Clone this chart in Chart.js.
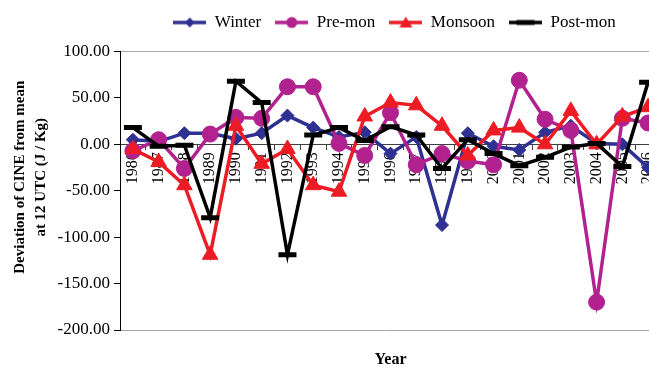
<!DOCTYPE html>
<html>
<head>
<meta charset="utf-8">
<title>Deviation of CINE from mean at 12 UTC</title>
<script src="https://cdn.jsdelivr.net/npm/chart.js@4.4.1/dist/chart.umd.min.js"></script>
<style>
  html, body { margin: 0; padding: 0; overflow: hidden; background: #ffffff; }
  #wrap { width: 649px; height: 369px; }
  #cine { display: block; }
</style>
</head>
<body>
<div id="wrap"><canvas id="cine" width="649" height="369"></canvas></div>
<script>
// Years on the category axis
const years = ['1986', '1987', '1988', '1989', '1990', '1991', '1992', '1993', '1994', '1995', '1996',
               '1997', '1998', '1999', '2000', '2001', '2002', '2003', '2004', '2005', '2006'];

// Seasonal deviation of CINE from its mean (J / Kg)
const winter  = [5, 3, 12, 12, 6, 12, 31, 18, 8, 13, -10, 8, -87, 12, -2, -6, 13, 20, 1, 0, -25];
const preMon  = [-7, 5, -26, 11, 29, 28, 62, 62, 1, -12, 34, -22, -10, -18, -22, 69, 27, 15, -170, 28, 23];
const monsoon = [-5, -19, -44, -119, 20, -21, -5, -44, -51, 30, 45, 42, 20, -12, 15, 18, 0, 36, 0, 30, 40];
const postMon = [18, -2, -1, -79, 68, 45, -119, 10, 18, 4, 19, 10, -26, 5, -10, -23, -14, -3, 1, -24, 67];

// Value axis range
const yMin = -200;
const yMax = 100;
const yStep = 50;

const seriesNames = ['Winter', 'Pre-mon', 'Monsoon', 'Post-mon'];
const yTitleLines = ['Deviation of CINE from mean', 'at 12 UTC (J / Kg)'];
const xTitle = 'Year';

const SERIF = "'Liberation Serif', 'Times New Roman', Times, serif";
const COLORS = ['#2E3192', '#B2228F', '#ED1C24', '#000000'];

// Small line-plus-marker swatches for the legend
function legendSymbol(color, kind) {
  const c = document.createElement('canvas');
  c.width = 33; c.height = 16;
  const g = c.getContext('2d');
  const x = 16.5, y = 8;
  g.strokeStyle = color; g.fillStyle = color;
  g.lineWidth = 3.5;
  g.beginPath(); g.moveTo(0, y); g.lineTo(33, y); g.stroke();
  g.beginPath();
  if (kind === 'diamond') {
    g.moveTo(x - 5, y); g.lineTo(x, y - 5); g.lineTo(x + 5, y); g.lineTo(x, y + 5); g.closePath(); g.fill();
  } else if (kind === 'circle') {
    g.arc(x, y, 5.5, 0, Math.PI * 2); g.fill();
  } else if (kind === 'triangle') {
    g.moveTo(x, y - 6); g.lineTo(x + 6.5, y + 5); g.lineTo(x - 6.5, y + 5); g.closePath(); g.fill();
  } else {
    g.lineWidth = 5; g.moveTo(x - 9, y); g.lineTo(x + 9, y); g.stroke();
  }
  return c;
}
const legendSymbols = [
  legendSymbol(COLORS[0], 'diamond'),
  legendSymbol(COLORS[1], 'circle'),
  legendSymbol(COLORS[2], 'triangle'),
  legendSymbol(COLORS[3], 'dash')
];

// The plot area runs past the right edge of the canvas (to PLOT_RIGHT),
// so the last year is cut off; the legend is centred over the full plot.
const PLOT_RIGHT = 661;
const extendPlot = {
  id: 'extendPlot',
  afterLayout(chart) {
    const area = chart.chartArea;
    const extra = PLOT_RIGHT - area.right;
    area.right += extra;
    area.width += extra;
    const x = chart.scales.x;
    x.right += extra;
    x.width += extra;
    x.configure();
    if (chart.legend) {
      chart.legend.right = area.right + 8;
    }
  }
};

// Axis titles placed beside the plot
const axisTitles = {
  id: 'axisTitles',
  afterDraw(chart) {
    const { ctx, chartArea } = chart;
    ctx.save();
    ctx.fillStyle = '#000';
    ctx.textAlign = 'center';
    ctx.textBaseline = 'middle';
    ctx.font = 'bold 15px ' + SERIF;
    const midY = (chartArea.top + chartArea.bottom) / 2 - 13.5;
    ctx.translate(0, midY);
    ctx.rotate(-Math.PI / 2);
    yTitleLines.forEach((t, i) => ctx.fillText(t, 0, 20 + i * 21));
    ctx.restore();
    ctx.save();
    ctx.fillStyle = '#000';
    ctx.textAlign = 'center';
    ctx.textBaseline = 'middle';
    ctx.font = 'bold 16px ' + SERIF;
    ctx.fillText(xTitle, (chartArea.left + chartArea.right) / 2, 360);
    ctx.restore();
  }
};

function series(i, data, style, radius, extra) {
  return Object.assign({
    label: seriesNames[i],
    data: data,
    borderColor: COLORS[i],
    backgroundColor: COLORS[i],
    borderWidth: 3.5,
    pointStyle: style,
    pointRadius: radius,
    pointHoverRadius: radius,
    pointBackgroundColor: COLORS[i],
    pointBorderColor: COLORS[i],
    pointBorderWidth: 1,
    tension: 0,
    order: 4 - i
  }, extra || {});
}

new Chart(document.getElementById('cine'), {
  type: 'line',
  data: {
    labels: years,
    datasets: [
      series(0, winter, 'rectRot', 6.5),
      series(1, preMon, 'circle', 8),
      series(2, monsoon, 'triangle', 9),
      series(3, postMon, 'line', 9, { pointBorderWidth: 5 })
    ]
  },
  options: {
    responsive: false,
    animation: false,
    events: [],
    layout: { padding: { top: 0, left: 0, right: 0, bottom: 39 } },
    plugins: {
      tooltip: { enabled: false },
      title: { display: true, text: ' ', padding: 0, font: { size: 10.5, lineHeight: 1 } },
      legend: {
        position: 'top',
        fullSize: false,
        weight: 3000,
        align: 'center',
        labels: {
          usePointStyle: true,
          pointStyleWidth: 33,
          padding: 14,
          color: '#000',
          font: { family: SERIF, size: 17 },
          generateLabels(chart) {
            return chart.data.datasets.map((ds, i) => ({
              text: ds.label,
              pointStyle: legendSymbols[i],
              fillStyle: COLORS[i],
              strokeStyle: COLORS[i],
              lineWidth: 0,
              hidden: false,
              datasetIndex: i,
              fontColor: '#000'
            }));
          }
        }
      }
    },
    scales: {
      x: {
        type: 'category',
        position: { y: 0 },
        offset: true,
        grid: { display: true, drawOnChartArea: false, drawTicks: true, tickLength: 5, offset: true, color: '#404040' },
        border: { display: true, color: '#404040', width: 1 },
        ticks: {
          autoSkip: false, minRotation: 90, maxRotation: 90, padding: 3,
          color: '#000', font: { family: SERIF, size: 16 }
        },
        afterFit(scale) { scale.height = 0; }
      },
      y: {
        min: yMin,
        max: yMax,
        ticks: {
          stepSize: yStep,
          padding: 4,
          color: '#000',
          font: { family: SERIF, size: 17 },
          callback: (v) => Number(v).toFixed(2)
        },
        grid: {
          drawOnChartArea: true,
          lineWidth: 1,
          tickLength: 6,
          tickColor: '#000',
          color: (c) => (c.tick && (c.tick.value === yMax || c.tick.value === yMin)) ? '#a6a6a6' : 'rgba(0,0,0,0)'
        },
        border: { color: '#000', width: 1 },
        afterFit(scale) { scale.width = 120; }
      }
    }
  },
  plugins: [extendPlot, axisTitles]
});
</script>
</body>
</html>
